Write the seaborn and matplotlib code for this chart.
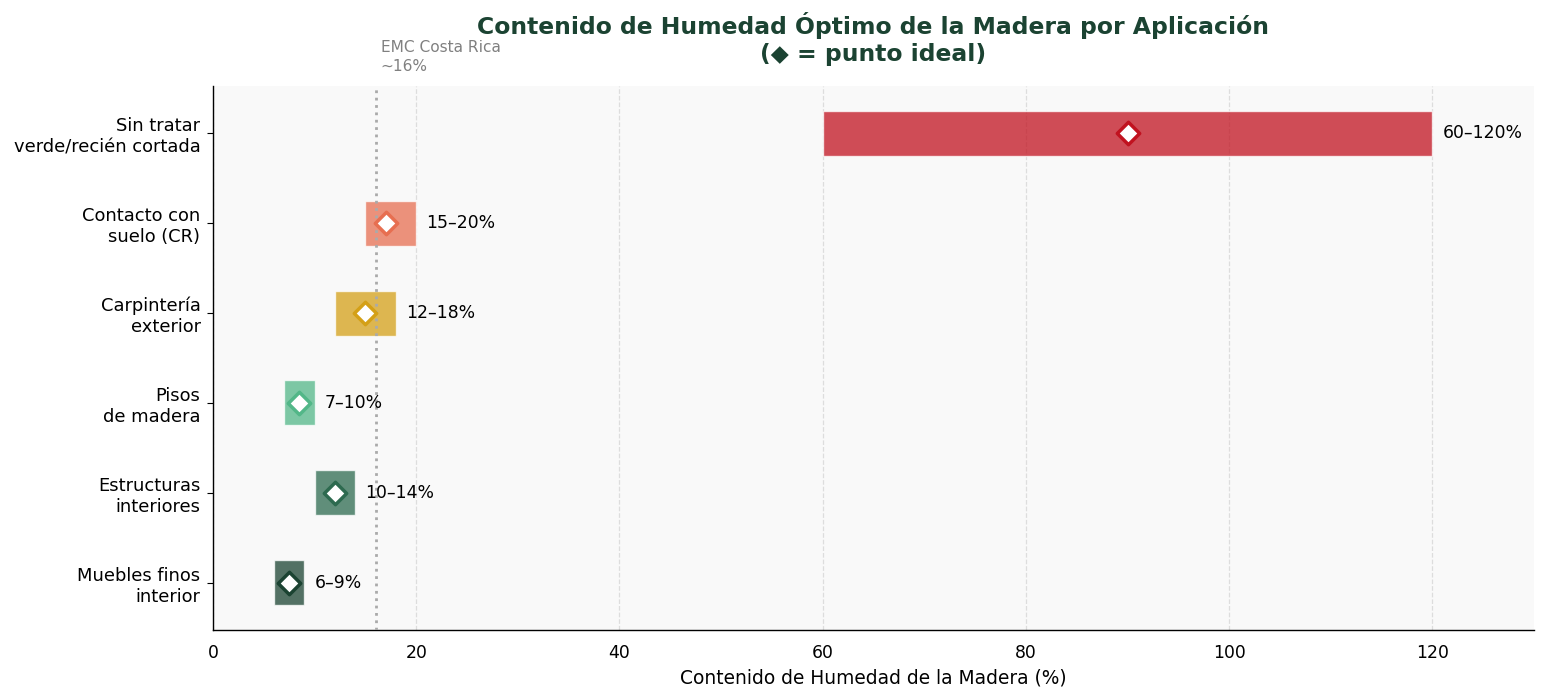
import matplotlib
matplotlib.use("Agg")
import matplotlib.pyplot as plt
import matplotlib.transforms as mtransforms
import seaborn as sns

# Data (bottom to top)
categories = ["Muebles finos\ninterior", "Estructuras\ninteriores", "Pisos\nde madera",
              "Carpintería\nexterior", "Contacto con\nsuelo (CR)", "Sin tratar\nverde/recién cortada"]
low = [6, 10, 7, 12, 15, 60]
high = [9, 14, 10, 18, 20, 120]
ideal = [7.5, 12, 8.5, 15, 17, 90]
range_labels = ["6–9%", "10–14%", "7–10%", "12–18%", "15–20%", "60–120%"]
colors = ["#1B4332", "#2D6A4F", "#52B788", "#D4A017", "#E76F51", "#C1121F"]
emc_value = 16
xticks = [0, 20, 40, 60, 80, 100, 120]

sns.set_style("white")
plt.rcParams["font.family"] = ["DejaVu Sans"]

fig = plt.figure(figsize=(15.46, 7.0), dpi=100)
ax = fig.add_axes([213/1546, 1-630/700, (1534-213)/1546, (630-86)/700])
ax.set_facecolor("#F9F9F9")

ypos = list(range(len(categories)))
widths = [h - l for l, h in zip(low, high)]
ax.barh(ypos, widths, left=low, height=0.5, color=colors, alpha=0.75, zorder=2)

for i in range(len(categories)):
    sns.scatterplot(x=[ideal[i]], y=[ypos[i]], marker="D", s=130, color="white",
                    edgecolor=colors[i], linewidth=2.5, ax=ax, zorder=4, legend=False)

for i in range(len(categories)):
    ax.text(high[i] + 1, ypos[i], range_labels[i], va="center", ha="left",
            fontsize=12.4, color="black", zorder=5)

ax.axvline(emc_value, color="#AAAAAA", ls=":", lw=2, zorder=3)
trans = mtransforms.blended_transform_factory(ax.transData, ax.transAxes)
ax.text(emc_value + 0.5, 1.022, "EMC Costa Rica\n~16%", transform=trans, fontsize=11.1,
        color="gray", va="bottom", ha="left", linespacing=1.3)

ax.set_xlim(0, 130)
ax.set_ylim(-0.525, 5.525)
ax.set_xticks(xticks)
ax.set_yticks(ypos)
ax.set_yticklabels(categories, fontsize=12.9, color="black", linespacing=1.2)
ax.tick_params(axis="x", labelsize=12.4, length=4, colors="black", pad=6)
ax.tick_params(axis="y", length=4, left=True, colors="black", pad=5)
ax.grid(axis="x", ls="--", color="#DDDDDD", lw=0.9, zorder=0)
ax.set_axisbelow(True)
for s in ["top", "right"]:
    ax.spines[s].set_visible(False)
for s in ["left", "bottom"]:
    ax.spines[s].set_color("black")
    ax.spines[s].set_linewidth(1.0)

ax.set_xlabel("Contenido de Humedad de la Madera (%)", fontsize=13.4, color="black", labelpad=4.5)
ax.set_ylabel("")
ax.set_title("Contenido de Humedad Óptimo de la Madera por Aplicación\n(◆ = punto ideal)",
             fontsize=16.9, fontweight="bold", color="#1B4332", pad=18)

fig.savefig("out.png", dpi=100)
